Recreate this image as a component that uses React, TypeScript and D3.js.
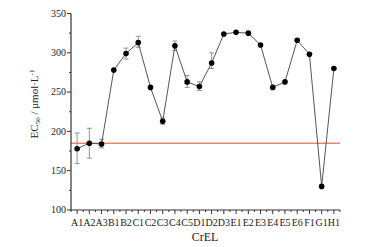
import React from "react";
import * as d3 from "d3";

const categories = ["A1","A2","A3","B1","B2","C1","C2","C3","C4","C5","D1","D2","D3","E1","E2","E3","E4","E5","E6","F1","G1","H1"];
const values = [178,185,184,278,299,313,256,213,309,263,257,287,324,326,325,310,256,263,316,298,130,280];
const errLow = [159,166,179,278,292,307,256,209,303,256,252,280,324,326,325,310,256,263,316,298,130,280];
const errHigh = [198,204,190,278,306,321,256,217,315,271,263,300,324,326,325,310,256,263,316,298,130,280];
const hasErr = [1,1,1,0,1,1,0,1,1,1,1,1,0,0,0,0,0,0,0,0,0,0];
const refValue = 185;
const yTicks = [100,150,200,250,300,350];

export default function App() {
  const W = 372, H = 247;
  const x0 = 71, x1 = 340, yTop = 13.5, yBot = 210;
  const x = d3.scaleBand<string>().domain(categories).range([x0, x1]).padding(0);
  const cx = (c: string) => (x(c) as number) + x.bandwidth() / 2;
  const y = d3.scaleLinear().domain([100, 350]).range([yBot, yTop]);
  const line = d3.line<number>().x((_, i) => cx(categories[i])).y(v => y(v));
  const minorY = d3.range(125, 350, 50);
  const font = "Liberation Serif, DejaVu Serif, serif";
  return (
    <svg width={W} height={H} style={{ position: "absolute", left: 0, top: 0, background: "#fff" }}>
      <line x1={x0} x2={x1} y1={y(refValue)} y2={y(refValue)} stroke="#e9866e" strokeWidth={1.4} />
      {categories.map((c, i) => hasErr[i] ? (
        <g key={"e" + c} stroke="#888" strokeWidth={0.9}>
          <line x1={cx(c)} x2={cx(c)} y1={y(errLow[i])} y2={y(errHigh[i])} />
          <line x1={cx(c) - 2.5} x2={cx(c) + 2.5} y1={y(errLow[i])} y2={y(errLow[i])} />
          <line x1={cx(c) - 2.5} x2={cx(c) + 2.5} y1={y(errHigh[i])} y2={y(errHigh[i])} />
        </g>
      ) : null)}
      <path d={line(values) as string} fill="none" stroke="#555" strokeWidth={1} />
      {categories.map((c, i) => (
        <circle key={"p" + c} cx={cx(c)} cy={y(values[i])} r={2.8} fill="#000" />
      ))}
      <line x1={x0} x2={x0} y1={yTop} y2={yBot} stroke="#333" strokeWidth={1.2} />
      <line x1={x0} x2={x1} y1={yBot} y2={yBot} stroke="#333" strokeWidth={1.2} />
      {yTicks.map(t => (
        <g key={"yt" + t}>
          <line x1={x0 - 4} x2={x0} y1={y(t)} y2={y(t)} stroke="#333" strokeWidth={1} />
          <text x={x0 - 5} y={y(t)} dy="0.33em" textAnchor="end" style={{ fontFamily: font }} fontSize={10} fill="#222">{t}</text>
        </g>
      ))}
      {minorY.map(t => (
        <line key={"ym" + t} x1={x0 - 2} x2={x0} y1={y(t)} y2={y(t)} stroke="#333" strokeWidth={1} />
      ))}
      {categories.map(c => (
        <g key={"xt" + c}>
          <line x1={cx(c)} x2={cx(c)} y1={yBot} y2={yBot + 4} stroke="#333" strokeWidth={1} />
          <line x1={x(c) as number} x2={x(c) as number} y1={yBot} y2={yBot + 2} stroke="#333" strokeWidth={1} />
          <text x={cx(c)} y={yBot + 16} textAnchor="middle" style={{ fontFamily: font }} fontSize={10} fill="#222">{c}</text>
        </g>
      ))}
      <line x1={x1} x2={x1} y1={yBot} y2={yBot + 2} stroke="#333" strokeWidth={1} />
      <text x={205} y={241} textAnchor="middle" style={{ fontFamily: font }} fontSize={12} fill="#222">CrEL</text>
      <text transform={`translate(38,104) rotate(-90)`} textAnchor="middle" style={{ fontFamily: font }} fontSize={11} fill="#222">
        EC<tspan fontSize={7} dy="2">50</tspan><tspan dy="-2"> / μmol·L</tspan><tspan fontSize={7} dy="-4">-1</tspan>
      </text>
    </svg>
  );
}
